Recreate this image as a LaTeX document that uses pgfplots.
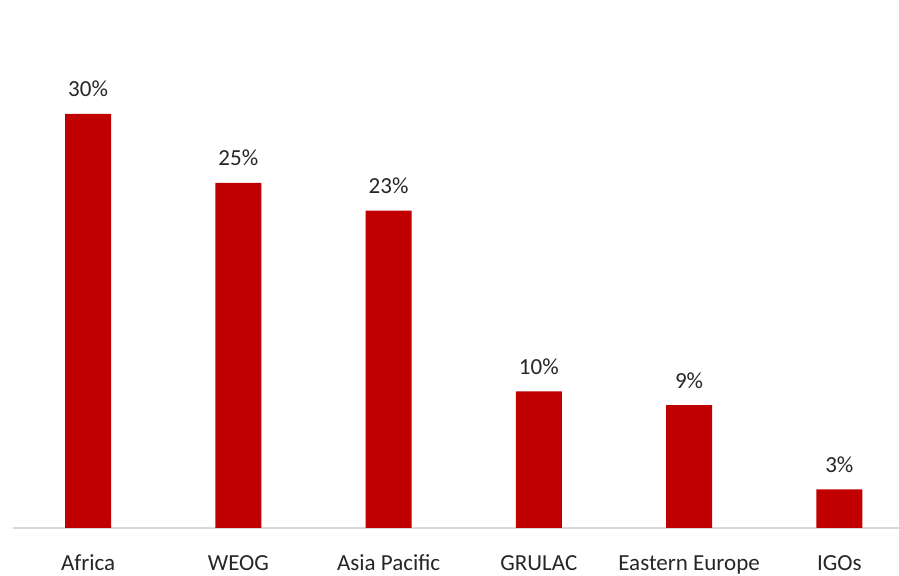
\documentclass[border=0pt]{standalone}
\usepackage{pgfplots}
\pgfplotsset{compat=1.18}
\usepackage{fontspec}
\setmainfont{Carlito}
\definecolor{barred}{HTML}{C00000}
\definecolor{axisgray}{HTML}{D9D9D9}
\definecolor{labelgray}{HTML}{262626}

\begin{document}
\begin{tikzpicture}
\begin{axis}[
    scale only axis,
    width=443pt,
    height=264pt,
    xmin=-0.5, xmax=5.397,
    ymin=0, ymax=38.26,
    axis x line*=bottom,
    axis line style={axisgray, line width=0.75pt, -},
    hide y axis,
    ybar,
    bar width=23pt,
    xtick=data,
    xticklabels={Africa, WEOG, Asia Pacific, GRULAC, Eastern Europe, IGOs},
    xtick style={draw=none},
    xticklabel style={font=\fontsize{11.5}{13}\selectfont, text=labelgray, anchor=base, yshift=-17pt},
    /pgf/number format/assume math mode=true,
    nodes near coords={\pgfmathprintnumber[fixed, precision=0]{\pgfplotspointmeta}\%},
    nodes near coords style={font=\fontsize{11.5}{13}\selectfont, text=labelgray, anchor=base, yshift=8.5pt},
    clip=false,
]
\addplot[fill=barred, draw=none] coordinates {
    (0,30) (1,25) (2,23.0) (3,9.9) (4,8.9) (5,2.8)
};
\end{axis}
\pgfresetboundingbox
\path (current axis.south west) ++(-6.5pt,-24pt) rectangle (current axis.north east);
\end{tikzpicture}
\end{document}
